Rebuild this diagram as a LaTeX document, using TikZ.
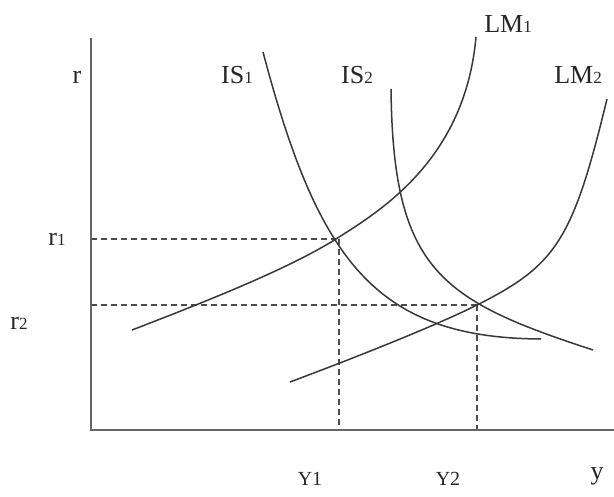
\documentclass[tikz,border=0pt]{standalone}
\usepackage{fontspec}
\setmainfont{Liberation Serif}
\newcommand{\subdig}[1]{{\fontsize{17}{17}\selectfont #1}}
\begin{document}
\begin{tikzpicture}[x=1pt,y=-1pt,
  axis/.style={draw=black!60,line width=2pt},
  curve/.style={draw=black!78,line width=1.5pt},
  guide/.style={draw=black!70,line width=1.3pt,dash pattern=on 6pt off 4pt},
  lab/.style={font=\fontsize{26}{26}\selectfont,inner sep=0pt,text=black!85},
  small/.style={font=\fontsize{20}{20}\selectfont,inner sep=0pt,text=black!85}]
\useasboundingbox (0,0) rectangle (614,497);
\coordinate (top) at (91,38);
\coordinate (orig) at (91,430);
\coordinate (xend) at (614,430);
\coordinate (E1) at (336,239);
\coordinate (E2) at (477,305);
\coordinate (r1a) at (91,239);
\coordinate (r2a) at (91,305);
\coordinate (y1t) at (339,239);
\coordinate (y1a) at (339,430);
\coordinate (y2a) at (477,430);
% guides
\draw[guide] (r1a) -- (E1);
\draw[guide] (r2a) -- (E2);
\draw[guide] (y1t) -- (y1a);
\draw[guide] (E2) -- (y2a);
% axes
\draw[axis] (top) -- (orig) -- (xend);
% IS1
\draw[curve] (263,52) .. controls (318,260) and (375,338) .. (541,339);
% IS2
\draw[curve] (391,89) .. controls (393,270) and (440,300) .. (593,350);
% LM1
\draw[curve] (132,330) .. controls (210,300) and (290,268) .. (E1)
  .. controls (380,211) and (465,160) .. (476,37);
% LM2
\draw[curve] (290,382) .. controls (370,352) and (440,323.5) .. (E2)
  .. controls (557,265) and (573,239) .. (607,99);
% labels
\node[lab] (lr) at (77,77) {r};
\node[lab] (lr1) at (57,239) {r\subdig{1}};
\node[lab] (lr2) at (19,323) {r\subdig{2}};
\node[lab] (lis1) at (237,75) {IS\subdig{1}};
\node[lab] (lis2) at (357,75) {IS\subdig{2}};
\node[lab] (llm1) at (508,24) {LM\subdig{1}};
\node[lab] (llm2) at (578,75) {LM\subdig{2}};
\node[small] (ly1) at (310,479) {Y1};
\node[small] (ly2) at (448,479) {Y2};
\node[lab] (ly) at (597,476) {y};
\end{tikzpicture}
\end{document}
